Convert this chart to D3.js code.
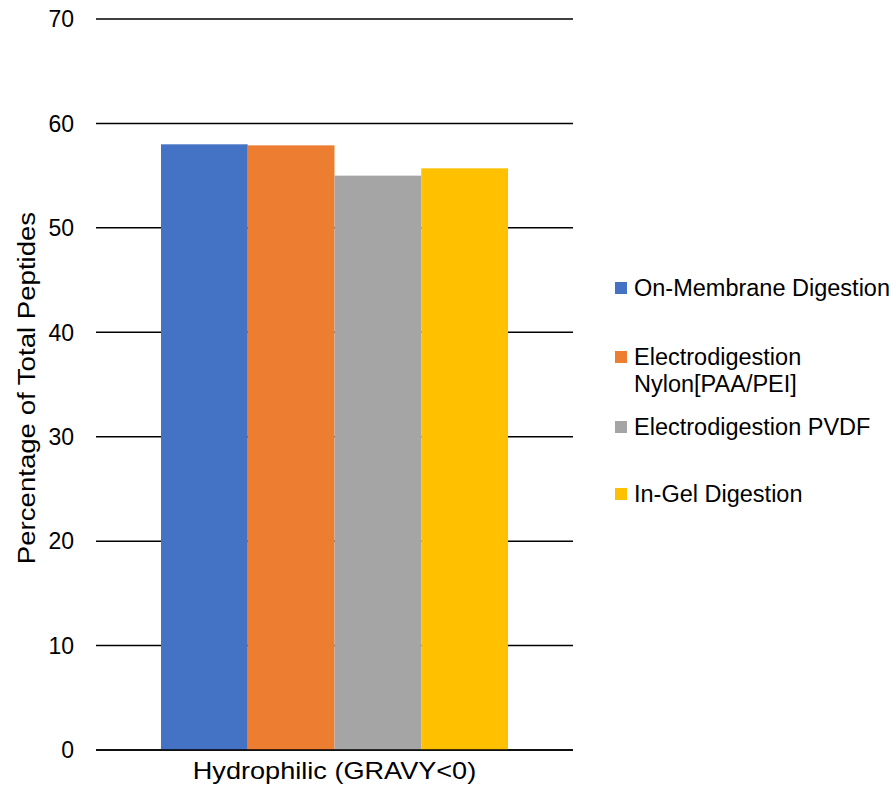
<!DOCTYPE html>
<html>
<head>
<meta charset="utf-8">
<script src="https://cdn.jsdelivr.net/npm/d3@7"></script>
<style>
  html, body { margin: 0; padding: 0; background: #fff; }
  text { font-family: "Liberation Sans", Arial, sans-serif; fill: #000; }
</style>
</head>
<body>
<svg id="chart" width="896" height="789"></svg>
<script>
// Peptide share by digestion method (single category group)
const category = "Hydrophilic (GRAVY<0)";
const seriesNames = [
  "On-Membrane Digestion",
  "Electrodigestion Nylon[PAA/PEI]",
  "Electrodigestion PVDF",
  "In-Gel Digestion"
];
const seriesValues = [58.0, 57.9, 55.0, 55.7];
const seriesColors = ["#4472C4", "#ED7D31", "#A5A5A5", "#FFC000"];
const yTicks = [0, 10, 20, 30, 40, 50, 60, 70];
const legendLines = [
  ["On-Membrane Digestion"],
  ["Electrodigestion", "Nylon[PAA/PEI]"],
  ["Electrodigestion PVDF"],
  ["In-Gel Digestion"]
];

const svg = d3.select("#chart");
const plot = { left: 96, right: 573, top: 19, bottom: 750 };

const y = d3.scaleLinear().domain([0, 70]).range([plot.bottom, plot.top]);
const x0 = d3.scaleBand().domain([category]).range([plot.left, plot.right]).paddingInner(0).paddingOuter(0.1873);
const x1 = d3.scaleBand().domain(seriesNames).range([0, x0.bandwidth()]).padding(0);

// gridlines
svg.append("g").selectAll("line").data(yTicks).join("line")
  .attr("x1", plot.left).attr("x2", plot.right)
  .attr("y1", d => y(d)).attr("y2", d => y(d))
  .attr("stroke", "#000").attr("stroke-width", 1.5);

// y tick labels
svg.append("g").selectAll("text").data(yTicks).join("text")
  .attr("x", 74).attr("y", d => y(d)).attr("dy", "0.36em")
  .attr("text-anchor", "end").attr("font-size", 23)
  .text(d => d);

// bars
svg.append("g").selectAll("rect").data(seriesNames).join("rect")
  .attr("x", d => x0(category) + x1(d))
  .attr("width", x1.bandwidth())
  .attr("y", (d, i) => y(seriesValues[i]))
  .attr("height", (d, i) => y(0) - y(seriesValues[i]))
  .attr("fill", (d, i) => seriesColors[i]);

// baseline drawn over bars
svg.append("line")
  .attr("x1", plot.left).attr("x2", plot.right)
  .attr("y1", y(0)).attr("y2", y(0))
  .attr("stroke", "#000").attr("stroke-width", 1.5);

// category label (slightly widened)
svg.append("text")
  .attr("transform", `translate(${x0(category) + x0.bandwidth() / 2},779) scale(1.13,1)`)
  .attr("text-anchor", "middle").attr("font-size", 24)
  .text(category);

// y axis title (slightly widened along its length)
svg.append("text")
  .attr("transform", "translate(35,388) rotate(-90) scale(1.15,1)")
  .attr("text-anchor", "middle").attr("font-size", 24)
  .text("Percentage of Total Peptides");

// legend
const legendY = [288, 357, 427, 494];
const legend = svg.append("g").selectAll("g").data(seriesNames).join("g")
  .attr("transform", (d, i) => `translate(615,${legendY[i]})`);
legend.append("rect")
  .attr("x", 0).attr("y", -6).attr("width", 12).attr("height", 12)
  .attr("fill", (d, i) => seriesColors[i]);
legend.append("text")
  .attr("font-size", 23.5)
  .selectAll("tspan").data((d, i) => legendLines[i]).join("tspan")
  .attr("x", 19).attr("y", (d, j) => j * 27).attr("dy", "0.36em")
  .text(d => d);
</script>
</body>
</html>
